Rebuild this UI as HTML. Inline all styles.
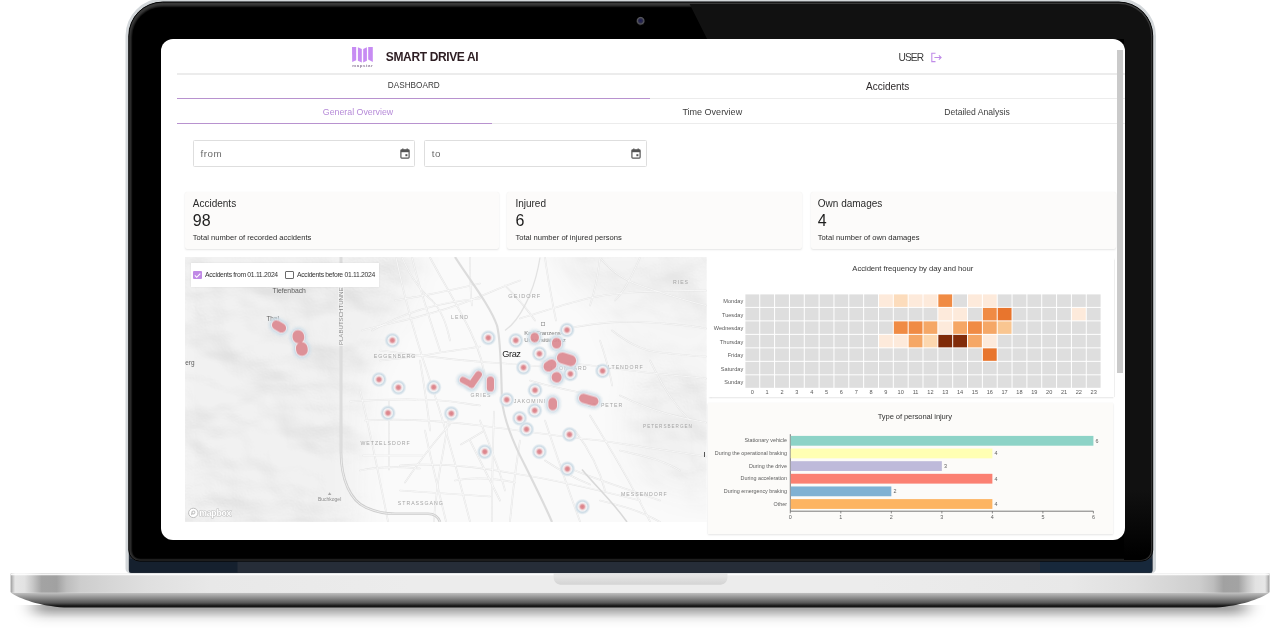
<!DOCTYPE html>
<html><head><meta charset="utf-8"><title>Smart Drive AI</title>
<style>
html,body{margin:0;padding:0;}
body{width:1280px;height:640px;overflow:hidden;background:#fff;position:relative;font-family:"Liberation Sans",Arial,sans-serif;}
.abs{position:absolute;}
.t{position:absolute;white-space:nowrap;}
#screen{position:absolute;left:161px;top:39px;width:964px;height:501px;border-radius:12px;background:#fff;overflow:hidden;will-change:transform;}
</style></head><body>
<svg class="abs" style="left:0;top:0" width="1280" height="640" viewBox="0 0 1280 640">
<defs>
<filter id="sh" x="-10%" y="-100%" width="120%" height="300%"><feGaussianBlur stdDeviation="5"/></filter>
<filter id="shx" x="-5%" y="0" width="110%" height="100%"><feGaussianBlur stdDeviation="9 0"/></filter>
<linearGradient id="shG" x1="0" x2="0" y1="0" y2="1">
 <stop offset="0" stop-color="#000" stop-opacity="0.36"/><stop offset="0.18" stop-color="#000" stop-opacity="0.34"/>
 <stop offset="0.38" stop-color="#000" stop-opacity="0.2"/><stop offset="0.55" stop-color="#000" stop-opacity="0.08"/>
 <stop offset="0.75" stop-color="#000" stop-opacity="0.02"/><stop offset="1" stop-color="#000" stop-opacity="0"/>
</linearGradient>
<filter id="b1" x="-5%" y="-5%" width="110%" height="110%"><feGaussianBlur stdDeviation="1.3"/></filter>
<filter id="b05" x="-5%" y="-5%" width="110%" height="110%"><feGaussianBlur stdDeviation="0.5"/></filter>
<linearGradient id="baseH" x1="10.6" x2="1269.5" y1="0" y2="0" gradientUnits="userSpaceOnUse">
 <stop offset="0.00000" stop-color="#9a9a9a"/> <stop offset="0.00175" stop-color="#c4c4c4"/> <stop offset="0.00357" stop-color="#e6e6e6"/> <stop offset="0.01112" stop-color="#e2e2e2"/> <stop offset="0.01748" stop-color="#c8c8c8"/> <stop offset="0.02462" stop-color="#a3a3a3"/> <stop offset="0.03654" stop-color="#a1a1a1"/> <stop offset="0.04448" stop-color="#bdbdbd"/> <stop offset="0.05560" stop-color="#cdcdcd"/> <stop offset="0.07943" stop-color="#d6d6d6"/> <stop offset="0.10724" stop-color="#dfdfdf"/> <stop offset="0.15887" stop-color="#e8e8e8"/> <stop offset="0.31774" stop-color="#ececec"/> <stop offset="0.68226" stop-color="#ececec"/> <stop offset="0.84113" stop-color="#e8e8e8"/> <stop offset="0.89276" stop-color="#dfdfdf"/> <stop offset="0.92057" stop-color="#d6d6d6"/> <stop offset="0.94440" stop-color="#cdcdcd"/> <stop offset="0.95552" stop-color="#bdbdbd"/> <stop offset="0.96346" stop-color="#a1a1a1"/> <stop offset="0.97538" stop-color="#a3a3a3"/> <stop offset="0.98252" stop-color="#c8c8c8"/> <stop offset="0.98888" stop-color="#e2e2e2"/> <stop offset="0.99643" stop-color="#e6e6e6"/> <stop offset="0.99825" stop-color="#c4c4c4"/> <stop offset="1.00000" stop-color="#9a9a9a"/>
</linearGradient>
<linearGradient id="baseV" x1="0" x2="0" y1="573" y2="592.8" gradientUnits="userSpaceOnUse">
 <stop offset="0" stop-color="#fff" stop-opacity="0.3"/><stop offset="0.04" stop-color="#fff" stop-opacity="0.9"/><stop offset="0.09" stop-color="#fff" stop-opacity="0.9"/>
 <stop offset="0.14" stop-color="#fff" stop-opacity="0"/><stop offset="1" stop-color="#fff" stop-opacity="0"/>
</linearGradient>
<linearGradient id="baseL" x1="0" x2="0" y1="592.5" y2="607.5" gradientUnits="userSpaceOnUse">
 <stop offset="0" stop-color="#c4c4c4"/><stop offset="0.08" stop-color="#b8b8b8"/><stop offset="0.37" stop-color="#8a8a8a"/>
 <stop offset="0.7" stop-color="#555"/><stop offset="0.88" stop-color="#1a1a1a"/><stop offset="1" stop-color="#101010"/>
</linearGradient>
<linearGradient id="notchG" x1="0" x2="0" y1="573" y2="585" gradientUnits="userSpaceOnUse">
 <stop offset="0" stop-color="#e9e9e9"/><stop offset="1" stop-color="#d3d3d3"/>
</linearGradient>
<radialGradient id="cam" cx="0.5" cy="0.45" r="0.5">
 <stop offset="0" stop-color="#1d1d55"/><stop offset="0.45" stop-color="#2a2a48"/><stop offset="0.75" stop-color="#58585e"/><stop offset="1" stop-color="#111"/>
</radialGradient>
<linearGradient id="glareG" x1="0" x2="0" y1="490" y2="556" gradientUnits="userSpaceOnUse"><stop offset="0" stop-color="#111"/><stop offset="1" stop-color="#000"/></linearGradient>
<clipPath id="innerClip"><path d="M130.5 36 A32 32 0 0 1 162.5 4 H1119 A32 32 0 0 1 1151 36 V550 A10 10 0 0 1 1141 560 H140.5 A10 10 0 0 1 130.5 550 Z"/></clipPath>
</defs>
<!-- shadow under base -->
<rect x="34" y="605" width="1212" height="24" fill="url(#shG)" filter="url(#shx)"/>
<!-- base lower part -->
<path d="M10.6 592.5 H1269.5 C1260 599 1240 606 1216 607.5 H64 C40 606 20 599 10.6 592.5 Z" fill="url(#baseL)"/>
<!-- base upper part -->
<rect x="10.6" y="573" width="1258.9" height="19.8" rx="1.2" fill="url(#baseH)"/>
<rect x="10.6" y="573" width="1258.9" height="19.8" rx="1.2" fill="url(#baseV)"/>
<!-- notch -->
<path d="M553.6 573 H727.5 V577 C727.5 582 724 584.8 719 584.8 H562 C557 584.8 553.6 582 553.6 577 Z" fill="url(#notchG)"/>
<!-- lid silver edge -->
<path d="M125.5 35.8 A37.3 37.3 0 0 1 162.8 -1.5 H1118.7 A37.3 37.3 0 0 1 1156 35.8 V568.5 A5 5 0 0 1 1151 573.5 H130.5 A5 5 0 0 1 125.5 568.5 Z" fill="#d3d7da"/>
<!-- bezel outer (navy band) -->
<path d="M128.8 35.8 A34 34 0 0 1 162.8 1.8 H1118.7 A34 34 0 0 1 1152.7 35.8 V570 A3 3 0 0 1 1149.7 573 H131.8 A3 3 0 0 1 128.8 570 Z" fill="#262d38"/>
<rect x="129.5" y="559" width="108" height="13.5" fill="#15202e"/>
<rect x="1040" y="559" width="112" height="13.5" fill="#17283b"/>
<!-- black panel with gray rim -->
<path d="M128.8 35.800000000000004 A33.7 33.7 0 0 1 162.5 2.1 H1119.0 A33.7 33.7 0 0 1 1152.7 35.800000000000004 V550.1 A11 11 0 0 1 1141.7 561.1 H139.8 A11 11 0 0 1 128.8 550.1 Z" fill="#3a3a3a"/>
<path d="M128.8 35.800000000000004 A33.7 33.7 0 0 1 162.5 2.1 H1119.0 A33.7 33.7 0 0 1 1152.7 35.800000000000004 V550.1 A11 11 0 0 1 1141.7 561.1 H139.8 A11 11 0 0 1 128.8 550.1 Z" fill="none" stroke="#050505" stroke-width="1"/>
<path d="M131.3 37.2 A31 31 0 0 1 162.3 6.2 H1119.2 A31 31 0 0 1 1150.2 37.2 V550.6 A9 9 0 0 1 1141.2 559.6 H140.3 A9 9 0 0 1 131.3 550.6 Z" fill="#000" filter="url(#b1)"/>
<path d="M132.5 37.1 A29.5 29.5 0 0 1 162.0 7.6 H1119.5 A29.5 29.5 0 0 1 1149 37.1 V550.5 A8 8 0 0 1 1141 558.5 H140.5 A8 8 0 0 1 132.5 550.5 Z" fill="#000"/>
<polygon points="687.6,0 1160,0 1160,565 1124,565 1124,39 707.1,39" fill="url(#glareG)" clip-path="url(#innerClip)"/>
<!-- camera -->
<circle cx="640.6" cy="21.2" r="4.4" fill="url(#cam)" filter="url(#b05)"/>
</svg>
<div id="screen">
<svg style="position:absolute;left:189px;top:6px" width="26" height="24" viewBox="350 45 26 24">
<g fill="#c78cf3">
<path d="M352 47 L356.2 47 L356.2 60.2 L352.2 62 Z"/>
<path d="M357.9 47.2 L361.8 49 L361.8 62.6 L357.9 60.8 Z"/>
<path d="M363.2 49 L366.9 47.2 L366.9 60.8 L363.2 62.6 Z"/>
<path d="M368.2 47 L372.8 47 L372.8 62 L368.2 59.6 Z"/>
</g>
<text x="352.2" y="67.2" font-size="4.3" fill="#8d7a98" font-weight="700" font-family="Liberation Sans, sans-serif" textLength="20.6" lengthAdjust="spacing">mapstar</text>
</svg>
<div class="t" style="left:224.80px;top:12.14px;font-size:12px;line-height:12px;color:#2d1d22;font-weight:700;letter-spacing:-0.36px;">SMART DRIVE AI</div>
<div class="t" style="left:737.40px;top:14.17px;font-size:10.2px;line-height:10.2px;color:#3a3a3a;font-weight:400;letter-spacing:-0.85px;">USER</div>
<svg style="position:absolute;left:769px;top:13px" width="13" height="12" viewBox="0 0 13 12">
<path d="M5.5 1.3 H1.8 V9.6 H5.5" fill="none" stroke="#c08ce8" stroke-width="1.1"/>
<path d="M4.4 5.5 H11 M8.9 3.3 L11.1 5.5 L8.9 7.7" fill="none" stroke="#c08ce8" stroke-width="1.1"/>
</svg>
<div style="position:absolute;left:16.00px;top:34.00px;width:948.00px;height:1.60px;background:#ececec;"></div>
<div class="t" style="left:252.80px;top:43.46px;font-size:8.2px;line-height:8.2px;color:#3a3a3a;font-weight:400;letter-spacing:0px;transform:translateX(-50%);">DASHBOARD</div>
<div class="t" style="left:726.70px;top:42.94px;font-size:10px;line-height:10px;color:#2e2a2b;font-weight:400;letter-spacing:0px;transform:translateX(-50%);">Accidents</div>
<div style="position:absolute;left:16.00px;top:58.90px;width:473.50px;height:1.30px;background:#b892cf;"></div>
<div style="position:absolute;left:489.00px;top:59.30px;width:475.00px;height:1.00px;background:#ececec;"></div>
<div class="t" style="left:197.00px;top:68.65px;font-size:8.8px;line-height:8.8px;color:#b68ad8;font-weight:400;letter-spacing:0px;transform:translateX(-50%);">General Overview</div>
<div class="t" style="left:551.30px;top:68.88px;font-size:9px;line-height:9px;color:#3d3d3d;font-weight:400;letter-spacing:0px;transform:translateX(-50%);">Time Overview</div>
<div class="t" style="left:816.00px;top:69.22px;font-size:8.6px;line-height:8.6px;color:#3d3d3d;font-weight:400;letter-spacing:0px;transform:translateX(-50%);">Detailed Analysis</div>
<div style="position:absolute;left:16.00px;top:83.70px;width:315.00px;height:1.30px;background:#b892cf;"></div>
<div style="position:absolute;left:331.00px;top:84.30px;width:633.00px;height:1.00px;background:#ececec;"></div>
<div style="position:absolute;left:31.80px;top:101.10px;width:222.70px;height:27.10px;box-sizing:border-box;border:1px solid #dedede;border-radius:1.5px;background:#fff;"></div>
<div style="position:absolute;left:262.50px;top:101.10px;width:223.20px;height:27.10px;box-sizing:border-box;border:1px solid #dedede;border-radius:1.5px;background:#fff;"></div>
<div class="t" style="left:39.60px;top:109.60px;font-size:9.8px;line-height:9.8px;color:#6b6b6b;font-weight:400;letter-spacing:0.5px;">from</div>
<div class="t" style="left:270.80px;top:109.60px;font-size:9.8px;line-height:9.8px;color:#6b6b6b;font-weight:400;letter-spacing:0.5px;">to</div>
<svg style="position:absolute;left:239.0px;top:109.3px" width="10" height="11" viewBox="0 0 10 11"><rect x="0.9" y="1.9" width="8.2" height="8.2" rx="0.8" fill="none" stroke="#555" stroke-width="1.2"/><rect x="0.9" y="1.9" width="8.2" height="2.3" fill="#555"/><rect x="2.3" y="0.4" width="1.1" height="2" fill="#555"/><rect x="6.6" y="0.4" width="1.1" height="2" fill="#555"/><rect x="5.4" y="6.2" width="2" height="2" fill="#555"/></svg>
<svg style="position:absolute;left:469.5px;top:109.3px" width="10" height="11" viewBox="0 0 10 11"><rect x="0.9" y="1.9" width="8.2" height="8.2" rx="0.8" fill="none" stroke="#555" stroke-width="1.2"/><rect x="0.9" y="1.9" width="8.2" height="2.3" fill="#555"/><rect x="2.3" y="0.4" width="1.1" height="2" fill="#555"/><rect x="6.6" y="0.4" width="1.1" height="2" fill="#555"/><rect x="5.4" y="6.2" width="2" height="2" fill="#555"/></svg>
<div style="position:absolute;left:23.80px;top:152.60px;width:313.90px;height:57.00px;background:#fcfbfa;border-radius:2px;box-shadow:0 1px 2px rgba(0,0,0,0.10),0 0 1px rgba(0,0,0,0.05);"></div>
<div class="t" style="left:31.80px;top:160.23px;font-size:10px;line-height:10px;color:#2b2b2b;font-weight:400;letter-spacing:0px;">Accidents</div>
<div class="t" style="left:31.80px;top:173.96px;font-size:16px;line-height:16px;color:#1e1e1e;font-weight:400;letter-spacing:0px;">98</div>
<div class="t" style="left:31.80px;top:194.77px;font-size:7.6px;line-height:7.6px;color:#2b2b2b;font-weight:400;letter-spacing:0px;">Total number of recorded accidents</div>
<div style="position:absolute;left:346.00px;top:152.60px;width:295.00px;height:57.00px;background:#fcfbfa;border-radius:2px;box-shadow:0 1px 2px rgba(0,0,0,0.10),0 0 1px rgba(0,0,0,0.05);"></div>
<div class="t" style="left:354.40px;top:160.23px;font-size:10px;line-height:10px;color:#2b2b2b;font-weight:400;letter-spacing:0px;">Injured</div>
<div class="t" style="left:354.40px;top:173.96px;font-size:16px;line-height:16px;color:#1e1e1e;font-weight:400;letter-spacing:0px;">6</div>
<div class="t" style="left:354.40px;top:194.77px;font-size:7.6px;line-height:7.6px;color:#2b2b2b;font-weight:400;letter-spacing:0px;">Total number of injured persons</div>
<div style="position:absolute;left:649.60px;top:152.60px;width:305.20px;height:57.00px;background:#fcfbfa;border-radius:2px;box-shadow:0 1px 2px rgba(0,0,0,0.10),0 0 1px rgba(0,0,0,0.05);"></div>
<div class="t" style="left:656.80px;top:160.23px;font-size:10px;line-height:10px;color:#2b2b2b;font-weight:400;letter-spacing:0px;">Own damages</div>
<div class="t" style="left:656.80px;top:173.96px;font-size:16px;line-height:16px;color:#1e1e1e;font-weight:400;letter-spacing:0px;">4</div>
<div class="t" style="left:656.80px;top:194.77px;font-size:7.6px;line-height:7.6px;color:#2b2b2b;font-weight:400;letter-spacing:0px;">Total number of own damages</div>
<svg style="position:absolute;left:24px;top:217.5px" width="521.5" height="265.0" viewBox="185 256.5 521.5 265.0">
<defs>
<radialGradient id="halo"><stop offset="0" stop-color="#db7f87"/><stop offset="0.22" stop-color="#df9197"/><stop offset="0.4" stop-color="#f1dcdf"/><stop offset="0.53" stop-color="#f1f3f5"/><stop offset="0.68" stop-color="#ccdbe5"/><stop offset="0.82" stop-color="#d6e2ea" stop-opacity="0.75"/><stop offset="1" stop-color="#e4ecf1" stop-opacity="0"/></radialGradient>
<filter id="terr" filterUnits="userSpaceOnUse" x="185" y="256.5" width="521.5" height="265.0" color-interpolation-filters="sRGB">
 <feTurbulence type="fractalNoise" baseFrequency="0.013 0.017" numOctaves="3" seed="5" result="n"/>
 <feColorMatrix in="n" type="matrix" values="0 0 0 0 0  0 0 0 0 0  0 0 0 0 0  1 0 0 0 0" result="h"/>
 <feDiffuseLighting in="h" surfaceScale="14" diffuseConstant="1" lighting-color="#fff" result="l"><feDistantLight azimuth="300" elevation="50"/></feDiffuseLighting>
 <feColorMatrix in="l" type="matrix" values="0 0 0 0 0  0 0 0 0 0  0 0 0 0 0  -1.6 0 0 0 1.45"/>
</filter>
<filter id="mb" filterUnits="userSpaceOnUse" x="165" y="236.5" width="561.5" height="305.0"><feGaussianBlur stdDeviation="14"/></filter>
<filter id="sb" filterUnits="userSpaceOnUse" x="185" y="256.5" width="521.5" height="265.0"><feGaussianBlur stdDeviation="0.45"/></filter>
<filter id="hb" filterUnits="userSpaceOnUse" x="185" y="256.5" width="521.5" height="265.0"><feGaussianBlur stdDeviation="1.1"/></filter>
<mask id="terrMask" maskUnits="userSpaceOnUse" x="185" y="256.5" width="521.5" height="265.0">
 <g filter="url(#mb)" fill="#fff">
  <path d="M170 240 H414 C416 270 410 295 396 318 C385 335 372 355 366 380 C360 410 358 450 358 540 H170 Z"/>
  <path d="M560 240 H720 V330 C680 320 640 310 600 300 C580 290 565 270 560 240 Z" opacity="0.8"/>
  <path d="M640 385 C660 370 720 370 720 380 V490 C690 500 660 490 640 470 C625 450 625 400 640 385 Z" opacity="0.9"/>
  <path d="M600 300 C630 310 680 320 720 330 V380 H640 C620 360 610 330 600 300 Z" opacity="0.5"/>
 </g>
</mask>
</defs>
<rect x="185" y="256.5" width="521.5" height="265.0" fill="#fafafa"/>
<g mask="url(#terrMask)"><rect x="185" y="256.5" width="521.5" height="265.0" fill="#f1f1f1"/><rect x="185" y="256.5" width="521.5" height="265.0" fill="#000" opacity="0.055" filter="url(#terr)"/></g>
<g fill="none" stroke-linecap="round">
<path d="M396 257 C405 300 418 345 430 380 C440 410 452 450 462 490 L470 521" stroke="#e3e3e3" stroke-width="1.7"/>
<path d="M412 257 C420 290 430 320 440 350" stroke="#e3e3e3" stroke-width="1.7"/>
<path d="M430 257 C445 285 455 300 470 330 C480 350 485 370 487 390" stroke="#e3e3e3" stroke-width="1.7"/>
<path d="M362 330 C390 322 430 316 470 300 C490 292 505 285 520 280" stroke="#e3e3e3" stroke-width="1.7"/>
<path d="M395 300 C420 296 450 290 480 283" stroke="#e3e3e3" stroke-width="1.7"/>
<path d="M380 350 C420 355 455 360 490 362 C520 364 545 366 560 368" stroke="#e3e3e3" stroke-width="1.7"/>
<path d="M365 420 C400 418 440 420 480 425 C520 430 560 436 600 440 C640 446 680 452 706 456" stroke="#e3e3e3" stroke-width="1.7"/>
<path d="M400 465 C440 462 480 466 520 474 C560 480 600 490 640 500" stroke="#e3e3e3" stroke-width="1.7"/>
<path d="M520 318 C540 312 560 305 580 300 C610 292 640 290 706 290" stroke="#e3e3e3" stroke-width="1.7"/>
<path d="M560 330 C590 322 620 320 650 322 C680 324 695 326 706 328" stroke="#e3e3e3" stroke-width="1.7"/>
<path d="M540 360 C570 362 600 366 630 370 C660 374 690 376 706 378" stroke="#e3e3e3" stroke-width="1.7"/>
<path d="M545 257 C548 280 552 300 556 320" stroke="#e3e3e3" stroke-width="1.7"/>
<path d="M600 257 C598 275 595 290 590 305" stroke="#e3e3e3" stroke-width="1.7"/>
<path d="M640 257 C632 275 625 290 615 300" stroke="#e3e3e3" stroke-width="1.7"/>
<path d="M620 395 C640 405 665 415 706 422" stroke="#e3e3e3" stroke-width="1.7"/>
<path d="M360 390 C370 430 378 470 388 521" stroke="#e3e3e3" stroke-width="1.7"/>
<path d="M425 430 C432 465 440 495 446 521" stroke="#e3e3e3" stroke-width="1.7"/>
<path d="M520 440 C515 470 512 500 510 521" stroke="#e3e3e3" stroke-width="1.7"/>
<path d="M545 420 C555 450 565 480 580 521" stroke="#e3e3e3" stroke-width="1.7"/>
<path d="M590 415 C605 440 625 470 650 521" stroke="#e3e3e3" stroke-width="1.7"/>
<path d="M480 420 C490 445 500 470 505 490" stroke="#e3e3e3" stroke-width="1.7"/>
<path d="M420 360 C425 390 428 410 430 430" stroke="#e3e3e3" stroke-width="1.7"/>
<path d="M455 480 C475 476 495 478 515 482" stroke="#e3e3e3" stroke-width="1.7"/>
<path d="M360 470 C380 466 400 466 420 468" stroke="#e3e3e3" stroke-width="1.7"/>
<path d="M600 340 C605 355 610 370 612 385" stroke="#e3e3e3" stroke-width="1.7"/>
<path d="M470 257 C470 275 470 290 472 305" stroke="#e3e3e3" stroke-width="1.7"/>
<path d="M505 285 C515 295 525 305 535 320" stroke="#e3e3e3" stroke-width="1.7"/>
<path d="M650 360 C660 380 670 400 690 420" stroke="#e3e3e3" stroke-width="1.7"/>
<path d="M575 470 C600 480 630 490 660 500" stroke="#e3e3e3" stroke-width="1.7"/>
<path d="M530 380 C545 385 560 388 580 392" stroke="#e3e3e3" stroke-width="1.7"/>
<path d="M402 257 C410 275 420 290 432 300 C440 308 446 320 450 340" stroke="#e3e3e3" stroke-width="1.7"/>
<path d="M372 330 C390 320 410 312 425 308 C445 302 460 300 480 298" stroke="#e3e3e3" stroke-width="1.7"/>
<path d="M380 360 C400 358 420 356 440 352 C455 350 470 348 480 346" stroke="#e3e3e3" stroke-width="1.7"/>
<path d="M350 401 C380 399 410 398 440 400 C455 401 470 404 480 405" stroke="#e3e3e3" stroke-width="1.7"/>
<path d="M389 400 C389 420 389 445 389 469" stroke="#e3e3e3" stroke-width="1.7"/>
<path d="M449 413 C446 440 440 465 438 482 C436 500 434 512 434 521.5" stroke="#e3e3e3" stroke-width="1.7"/>
<path d="M405 482 C420 460 435 440 450 424" stroke="#e3e3e3" stroke-width="1.7"/>
<path d="M363 455 H423" stroke="#e3e3e3" stroke-width="1.7"/>
<path d="M483 431 C475 436 468 440 461 444" stroke="#e3e3e3" stroke-width="1.7"/>
<path d="M494 411 C493 440 492 480 492 521.5" stroke="#e3e3e3" stroke-width="1.7"/>
<path d="M470 440 C480 460 490 480 500 500" stroke="#e3e3e3" stroke-width="1.7"/>
<path d="M400 490 C430 492 460 494 490 496" stroke="#e3e3e3" stroke-width="1.7"/>
<path d="M600 257 C610 270 625 280 640 285 C660 292 685 300 706 305" stroke="#e3e3e3" stroke-width="1.7"/>
<path d="M612 330 C625 340 640 350 660 352 C680 354 695 356 706 356" stroke="#e3e3e3" stroke-width="1.7"/>
<path d="M575 430 C590 450 600 470 605 490" stroke="#e3e3e3" stroke-width="1.7"/>
<path d="M620 450 C640 455 660 458 680 470" stroke="#e3e3e3" stroke-width="1.7"/>
<path d="M600 500 C620 505 640 510 660 521.5" stroke="#e3e3e3" stroke-width="1.7"/>
<path d="M545 460 C560 470 575 478 590 484" stroke="#e3e3e3" stroke-width="1.7"/>
<path d="M396 257 C405 300 418 345 430 380 C440 410 452 450 462 490 L470 521" stroke="#fdfdfd" stroke-width="0.7"/>
<path d="M412 257 C420 290 430 320 440 350" stroke="#fdfdfd" stroke-width="0.7"/>
<path d="M430 257 C445 285 455 300 470 330 C480 350 485 370 487 390" stroke="#fdfdfd" stroke-width="0.7"/>
<path d="M362 330 C390 322 430 316 470 300 C490 292 505 285 520 280" stroke="#fdfdfd" stroke-width="0.7"/>
<path d="M395 300 C420 296 450 290 480 283" stroke="#fdfdfd" stroke-width="0.7"/>
<path d="M380 350 C420 355 455 360 490 362 C520 364 545 366 560 368" stroke="#fdfdfd" stroke-width="0.7"/>
<path d="M365 420 C400 418 440 420 480 425 C520 430 560 436 600 440 C640 446 680 452 706 456" stroke="#fdfdfd" stroke-width="0.7"/>
<path d="M400 465 C440 462 480 466 520 474 C560 480 600 490 640 500" stroke="#fdfdfd" stroke-width="0.7"/>
<path d="M520 318 C540 312 560 305 580 300 C610 292 640 290 706 290" stroke="#fdfdfd" stroke-width="0.7"/>
<path d="M560 330 C590 322 620 320 650 322 C680 324 695 326 706 328" stroke="#fdfdfd" stroke-width="0.7"/>
<path d="M540 360 C570 362 600 366 630 370 C660 374 690 376 706 378" stroke="#fdfdfd" stroke-width="0.7"/>
<path d="M545 257 C548 280 552 300 556 320" stroke="#fdfdfd" stroke-width="0.7"/>
<path d="M600 257 C598 275 595 290 590 305" stroke="#fdfdfd" stroke-width="0.7"/>
<path d="M640 257 C632 275 625 290 615 300" stroke="#fdfdfd" stroke-width="0.7"/>
<path d="M620 395 C640 405 665 415 706 422" stroke="#fdfdfd" stroke-width="0.7"/>
<path d="M360 390 C370 430 378 470 388 521" stroke="#fdfdfd" stroke-width="0.7"/>
<path d="M425 430 C432 465 440 495 446 521" stroke="#fdfdfd" stroke-width="0.7"/>
<path d="M520 440 C515 470 512 500 510 521" stroke="#fdfdfd" stroke-width="0.7"/>
<path d="M545 420 C555 450 565 480 580 521" stroke="#fdfdfd" stroke-width="0.7"/>
<path d="M590 415 C605 440 625 470 650 521" stroke="#fdfdfd" stroke-width="0.7"/>
<path d="M480 420 C490 445 500 470 505 490" stroke="#fdfdfd" stroke-width="0.7"/>
<path d="M420 360 C425 390 428 410 430 430" stroke="#fdfdfd" stroke-width="0.7"/>
<path d="M455 480 C475 476 495 478 515 482" stroke="#fdfdfd" stroke-width="0.7"/>
<path d="M360 470 C380 466 400 466 420 468" stroke="#fdfdfd" stroke-width="0.7"/>
<path d="M600 340 C605 355 610 370 612 385" stroke="#fdfdfd" stroke-width="0.7"/>
<path d="M470 257 C470 275 470 290 472 305" stroke="#fdfdfd" stroke-width="0.7"/>
<path d="M505 285 C515 295 525 305 535 320" stroke="#fdfdfd" stroke-width="0.7"/>
<path d="M650 360 C660 380 670 400 690 420" stroke="#fdfdfd" stroke-width="0.7"/>
<path d="M575 470 C600 480 630 490 660 500" stroke="#fdfdfd" stroke-width="0.7"/>
<path d="M530 380 C545 385 560 388 580 392" stroke="#fdfdfd" stroke-width="0.7"/>
<path d="M402 257 C410 275 420 290 432 300 C440 308 446 320 450 340" stroke="#fdfdfd" stroke-width="0.7"/>
<path d="M372 330 C390 320 410 312 425 308 C445 302 460 300 480 298" stroke="#fdfdfd" stroke-width="0.7"/>
<path d="M380 360 C400 358 420 356 440 352 C455 350 470 348 480 346" stroke="#fdfdfd" stroke-width="0.7"/>
<path d="M350 401 C380 399 410 398 440 400 C455 401 470 404 480 405" stroke="#fdfdfd" stroke-width="0.7"/>
<path d="M389 400 C389 420 389 445 389 469" stroke="#fdfdfd" stroke-width="0.7"/>
<path d="M449 413 C446 440 440 465 438 482 C436 500 434 512 434 521.5" stroke="#fdfdfd" stroke-width="0.7"/>
<path d="M405 482 C420 460 435 440 450 424" stroke="#fdfdfd" stroke-width="0.7"/>
<path d="M363 455 H423" stroke="#fdfdfd" stroke-width="0.7"/>
<path d="M483 431 C475 436 468 440 461 444" stroke="#fdfdfd" stroke-width="0.7"/>
<path d="M494 411 C493 440 492 480 492 521.5" stroke="#fdfdfd" stroke-width="0.7"/>
<path d="M470 440 C480 460 490 480 500 500" stroke="#fdfdfd" stroke-width="0.7"/>
<path d="M400 490 C430 492 460 494 490 496" stroke="#fdfdfd" stroke-width="0.7"/>
<path d="M600 257 C610 270 625 280 640 285 C660 292 685 300 706 305" stroke="#fdfdfd" stroke-width="0.7"/>
<path d="M612 330 C625 340 640 350 660 352 C680 354 695 356 706 356" stroke="#fdfdfd" stroke-width="0.7"/>
<path d="M575 430 C590 450 600 470 605 490" stroke="#fdfdfd" stroke-width="0.7"/>
<path d="M620 450 C640 455 660 458 680 470" stroke="#fdfdfd" stroke-width="0.7"/>
<path d="M600 500 C620 505 640 510 660 521.5" stroke="#fdfdfd" stroke-width="0.7"/>
<path d="M545 460 C560 470 575 478 590 484" stroke="#fdfdfd" stroke-width="0.7"/>
</g>
<path d="M455 256.5 C470 280 490 305 497 325 C501 340 501 370 502 400 C504 420 512 440 525 465 C535 485 545 505 552 521.5" fill="none" stroke="#dcdcdc" stroke-width="2.2"/>
<path d="M582 469 C595 485 612 500 627 521.5" fill="none" stroke="#d9d9d9" stroke-width="1.6"/>
<path d="M540 257 C535 290 520 320 505 330" fill="none" stroke="#e2e2e2" stroke-width="1.3"/>
<path d="M341 256.5 V452 C341 478 350 500 366 507 C375 511 385 513.3 395 513.3 H428 C434 513.3 438 516 440 521.5" fill="none" stroke="#cdcdcd" stroke-width="2.6"/>
<path d="M341 256.5 V452 C341 478 350 500 366 507 C375 511 385 513.3 395 513.3 H428 C434 513.3 438 516 440 521.5" fill="none" stroke="#f0f0f0" stroke-width="0.9"/>
<text x="289.2" y="292.7" font-size="6.8" fill="#5e5e5e" text-anchor="middle" letter-spacing="0" font-weight="400" font-family="Liberation Sans, sans-serif" >Tiefenbach</text>
<text x="272.6" y="320.6" font-size="6.4" fill="#5e5e5e" text-anchor="middle" letter-spacing="0" font-weight="400" font-family="Liberation Sans, sans-serif" >Thal</text>
<text x="185.3" y="364.4" font-size="6.4" fill="#5e5e5e" text-anchor="start" letter-spacing="0" font-weight="400" font-family="Liberation Sans, sans-serif" >erg</text>
<text x="524.8" y="297.7" font-size="5.6" fill="#a5a5a5" text-anchor="middle" letter-spacing="1.1" font-weight="400" font-family="Liberation Sans, sans-serif" >GEIDORF</text>
<text x="460" y="318.5" font-size="5.2" fill="#a5a5a5" text-anchor="middle" letter-spacing="1.0" font-weight="400" font-family="Liberation Sans, sans-serif" >LEND</text>
<text x="681" y="283" font-size="5.2" fill="#a5a5a5" text-anchor="middle" letter-spacing="1.0" font-weight="400" font-family="Liberation Sans, sans-serif" >RIES</text>
<text x="395" y="357.5" font-size="5.2" fill="#a5a5a5" text-anchor="middle" letter-spacing="1.0" font-weight="400" font-family="Liberation Sans, sans-serif" >EGGENBERG</text>
<text x="543.3" y="334.3" font-size="6.0" fill="#7a7a7a" text-anchor="middle" letter-spacing="-0.1" font-weight="400" font-family="Liberation Sans, sans-serif" >Karl-Franzens-</text>
<text x="545" y="341.6" font-size="6.0" fill="#7a7a7a" text-anchor="middle" letter-spacing="-0.1" font-weight="400" font-family="Liberation Sans, sans-serif" >Universität Graz</text>
<text x="620.7" y="368" font-size="5.2" fill="#a5a5a5" text-anchor="middle" letter-spacing="1.0" font-weight="400" font-family="Liberation Sans, sans-serif" >WALTENDORF</text>
<text x="569" y="369.5" font-size="5.2" fill="#a5a5a5" text-anchor="middle" letter-spacing="1.0" font-weight="400" font-family="Liberation Sans, sans-serif" >LEONHARD</text>
<text x="481" y="396.5" font-size="5.2" fill="#a5a5a5" text-anchor="middle" letter-spacing="1.0" font-weight="400" font-family="Liberation Sans, sans-serif" >GRIES</text>
<text x="530" y="402.5" font-size="5.2" fill="#a5a5a5" text-anchor="middle" letter-spacing="1.0" font-weight="400" font-family="Liberation Sans, sans-serif" >JAKOMINI</text>
<text x="605.6" y="406" font-size="5.2" fill="#a5a5a5" text-anchor="middle" letter-spacing="1.0" font-weight="400" font-family="Liberation Sans, sans-serif" >ST. PETER</text>
<text x="668" y="427" font-size="4.6" fill="#a5a5a5" text-anchor="middle" letter-spacing="1.0" font-weight="400" font-family="Liberation Sans, sans-serif" >PETERSBERGEN</text>
<text x="385.5" y="444" font-size="5.2" fill="#a5a5a5" text-anchor="middle" letter-spacing="1.0" font-weight="400" font-family="Liberation Sans, sans-serif" >WETZELSDORF</text>
<text x="420.8" y="504.5" font-size="5.2" fill="#a5a5a5" text-anchor="middle" letter-spacing="1.0" font-weight="400" font-family="Liberation Sans, sans-serif" >STRASSGANG</text>
<text x="644.3" y="495.5" font-size="5.2" fill="#a5a5a5" text-anchor="middle" letter-spacing="1.0" font-weight="400" font-family="Liberation Sans, sans-serif" >MESSENDORF</text>
<text x="329.6" y="500.5" font-size="5" fill="#8a8a8a" text-anchor="middle" letter-spacing="0" font-weight="400" font-family="Liberation Sans, sans-serif" >Buchkogel</text>
<path d="M327.9 494.6 L329.6 491.8 L331.3 494.6 Z" fill="#a8a8a8"/>
<rect x="541.5" y="322" width="3.2" height="3.2" fill="none" stroke="#999" stroke-width="0.6"/>
<rect x="338" y="286" width="6" height="59.5" fill="#f1f1f1"/>
<text x="343.1" y="344.6" font-size="6.2" fill="#8e8e8e" text-anchor="start" letter-spacing="0" font-weight="400" font-family="Liberation Sans, sans-serif" textLength="61" lengthAdjust="spacingAndGlyphs" transform="rotate(-90 343.1 344.6)">PLABUTSCHTUNNEL</text>
<circle cx="392.4" cy="339.9" r="8.2" fill="url(#halo)"/>
<circle cx="379" cy="379" r="8.2" fill="url(#halo)"/>
<circle cx="398.4" cy="387" r="8.2" fill="url(#halo)"/>
<circle cx="433.7" cy="386.7" r="8.2" fill="url(#halo)"/>
<circle cx="388" cy="412.5" r="8.2" fill="url(#halo)"/>
<circle cx="451.3" cy="413" r="8.2" fill="url(#halo)"/>
<circle cx="488.3" cy="337.3" r="8.2" fill="url(#halo)"/>
<circle cx="515.8" cy="339.9" r="8.2" fill="url(#halo)"/>
<circle cx="567" cy="329.5" r="8.2" fill="url(#halo)"/>
<circle cx="539.4" cy="353.2" r="8.2" fill="url(#halo)"/>
<circle cx="523.5" cy="367" r="8.2" fill="url(#halo)"/>
<circle cx="570.4" cy="373.4" r="8.2" fill="url(#halo)"/>
<circle cx="602.6" cy="370.4" r="8.2" fill="url(#halo)"/>
<circle cx="506.7" cy="399.2" r="8.2" fill="url(#halo)"/>
<circle cx="535" cy="389.7" r="8.2" fill="url(#halo)"/>
<circle cx="534.7" cy="410" r="8.2" fill="url(#halo)"/>
<circle cx="519.6" cy="417.7" r="8.2" fill="url(#halo)"/>
<circle cx="526.5" cy="428.8" r="8.2" fill="url(#halo)"/>
<circle cx="569.5" cy="434" r="8.2" fill="url(#halo)"/>
<circle cx="484.8" cy="451.2" r="8.2" fill="url(#halo)"/>
<circle cx="539.4" cy="451.2" r="8.2" fill="url(#halo)"/>
<circle cx="567.4" cy="468.4" r="8.2" fill="url(#halo)"/>
<circle cx="582.4" cy="506.2" r="8.2" fill="url(#halo)"/>
<g stroke-linecap="round" fill="none" filter="url(#sb)" opacity="0.93">
<path d="M276.5 324.5 L281.51 327.51" stroke="#d3e1ea" stroke-width="16.2" opacity="0.85" filter="url(#hb)"/>
<path d="M298.2 335.5 L298.51 337.01" stroke="#d3e1ea" stroke-width="18.6" opacity="0.85" filter="url(#hb)"/>
<path d="M301.7 347.5 L302.01 349.51" stroke="#d3e1ea" stroke-width="18.6" opacity="0.85" filter="url(#hb)"/>
<path d="M534.7 336.5 L534.71 337.51" stroke="#d3e1ea" stroke-width="15.4" opacity="0.85" filter="url(#hb)"/>
<path d="M556.6 342 L556.61 343.51" stroke="#d3e1ea" stroke-width="16.2" opacity="0.85" filter="url(#hb)"/>
<path d="M562.5 357.5 L570.51 360.01" stroke="#d3e1ea" stroke-width="18.2" opacity="0.85" filter="url(#hb)"/>
<path d="M548.5 366 L551.51 364.01" stroke="#d3e1ea" stroke-width="17" opacity="0.85" filter="url(#hb)"/>
<path d="M556.6 376.5 L556.61 377.01" stroke="#d3e1ea" stroke-width="17" opacity="0.85" filter="url(#hb)"/>
<path d="M463 379.5 L471.51 384.01" stroke="#d3e1ea" stroke-width="13.4" opacity="0.85" filter="url(#hb)"/>
<path d="M471.5 384 L478.51 374.01" stroke="#d3e1ea" stroke-width="13.8" opacity="0.85" filter="url(#hb)"/>
<path d="M490.4 379.5 L490.40999999999997 387.51" stroke="#d3e1ea" stroke-width="14.2" opacity="0.85" filter="url(#hb)"/>
<path d="M552.7 401.5 L552.71 405.51" stroke="#d3e1ea" stroke-width="15.6" opacity="0.85" filter="url(#hb)"/>
<path d="M583.5 397.8 L594.01 400.81" stroke="#d3e1ea" stroke-width="16.0" opacity="0.85" filter="url(#hb)"/>
<path d="M276.5 324.5 L281.51 327.51" stroke="#c9dae5" stroke-width="12.799999999999999"/>
<path d="M298.2 335.5 L298.51 337.01" stroke="#c9dae5" stroke-width="15.2"/>
<path d="M301.7 347.5 L302.01 349.51" stroke="#c9dae5" stroke-width="15.2"/>
<path d="M534.7 336.5 L534.71 337.51" stroke="#c9dae5" stroke-width="12.0"/>
<path d="M556.6 342 L556.61 343.51" stroke="#c9dae5" stroke-width="12.799999999999999"/>
<path d="M562.5 357.5 L570.51 360.01" stroke="#c9dae5" stroke-width="14.799999999999999"/>
<path d="M548.5 366 L551.51 364.01" stroke="#c9dae5" stroke-width="13.6"/>
<path d="M556.6 376.5 L556.61 377.01" stroke="#c9dae5" stroke-width="13.6"/>
<path d="M463 379.5 L471.51 384.01" stroke="#c9dae5" stroke-width="10.0"/>
<path d="M471.5 384 L478.51 374.01" stroke="#c9dae5" stroke-width="10.4"/>
<path d="M490.4 379.5 L490.40999999999997 387.51" stroke="#c9dae5" stroke-width="10.8"/>
<path d="M552.7 401.5 L552.71 405.51" stroke="#c9dae5" stroke-width="12.2"/>
<path d="M583.5 397.8 L594.01 400.81" stroke="#c9dae5" stroke-width="12.6"/>
<path d="M276.5 324.5 L281.51 327.51" stroke="#f3eaee" stroke-width="11.0"/>
<path d="M298.2 335.5 L298.51 337.01" stroke="#f3eaee" stroke-width="13.4"/>
<path d="M301.7 347.5 L302.01 349.51" stroke="#f3eaee" stroke-width="13.4"/>
<path d="M534.7 336.5 L534.71 337.51" stroke="#f3eaee" stroke-width="10.200000000000001"/>
<path d="M556.6 342 L556.61 343.51" stroke="#f3eaee" stroke-width="11.0"/>
<path d="M562.5 357.5 L570.51 360.01" stroke="#f3eaee" stroke-width="13.0"/>
<path d="M548.5 366 L551.51 364.01" stroke="#f3eaee" stroke-width="11.8"/>
<path d="M556.6 376.5 L556.61 377.01" stroke="#f3eaee" stroke-width="11.8"/>
<path d="M463 379.5 L471.51 384.01" stroke="#f3eaee" stroke-width="8.200000000000001"/>
<path d="M471.5 384 L478.51 374.01" stroke="#f3eaee" stroke-width="8.6"/>
<path d="M490.4 379.5 L490.40999999999997 387.51" stroke="#f3eaee" stroke-width="9.0"/>
<path d="M552.7 401.5 L552.71 405.51" stroke="#f3eaee" stroke-width="10.4"/>
<path d="M583.5 397.8 L594.01 400.81" stroke="#f3eaee" stroke-width="10.8"/>
<path d="M276.5 324.5 L281.51 327.51" stroke="#dc8a92" stroke-width="9.2"/>
<path d="M298.2 335.5 L298.51 337.01" stroke="#dc8a92" stroke-width="11.6"/>
<path d="M301.7 347.5 L302.01 349.51" stroke="#dc8a92" stroke-width="11.6"/>
<path d="M534.7 336.5 L534.71 337.51" stroke="#dc8a92" stroke-width="8.4"/>
<path d="M556.6 342 L556.61 343.51" stroke="#dc8a92" stroke-width="9.2"/>
<path d="M562.5 357.5 L570.51 360.01" stroke="#dc8a92" stroke-width="11.2"/>
<path d="M548.5 366 L551.51 364.01" stroke="#dc8a92" stroke-width="10"/>
<path d="M556.6 376.5 L556.61 377.01" stroke="#dc8a92" stroke-width="10"/>
<path d="M463 379.5 L471.51 384.01" stroke="#dc8a92" stroke-width="6.4"/>
<path d="M471.5 384 L478.51 374.01" stroke="#dc8a92" stroke-width="6.8"/>
<path d="M490.4 379.5 L490.40999999999997 387.51" stroke="#dc8a92" stroke-width="7.2"/>
<path d="M552.7 401.5 L552.71 405.51" stroke="#dc8a92" stroke-width="8.6"/>
<path d="M583.5 397.8 L594.01 400.81" stroke="#dc8a92" stroke-width="9.0"/>
</g>
<text x="511.4" y="356.8" font-size="9.2" fill="#222" text-anchor="middle" letter-spacing="-0.45" font-weight="400" font-family="Liberation Sans, sans-serif" >Graz</text>
<circle cx="193.3" cy="512.4" r="4.7" fill="#fff" stroke="#bdbdbd" stroke-width="1"/>
<path d="M190.9 514.9 L191.4 511.6 C191.8 509.9 194.6 509.5 195.3 511.2 C196 512.9 194 514.5 192.2 514 Z" fill="#c4c4c4"/>
<circle cx="193.5" cy="511.9" r="0.9" fill="#fff"/>
<text x="199.2" y="515.6" font-size="8.6" fill="#fff" text-anchor="start" letter-spacing="-0.15" font-weight="700" font-family="Liberation Sans, sans-serif" stroke="#bebebe" stroke-width="1" paint-order="stroke">mapbox</text>
</svg>
<div style="position:absolute;left:30.00px;top:224.00px;width:187.70px;height:23.80px;background:#fff;box-shadow:0 0 2px rgba(0,0,0,0.08);"></div>
<div style="position:absolute;left:32.00px;top:231.50px;width:9.00px;height:8.40px;background:#c08ae6;border-radius:1px;"></div>
<svg style="position:absolute;left:32px;top:231.8px" width="9" height="9" viewBox="0 0 9 9"><path d="M1.8 4.4 L3.7 6.3 L7.3 2.6" fill="none" stroke="#fff" stroke-width="1.1"/></svg>
<div class="t" style="left:44.00px;top:233.34px;font-size:6.8px;line-height:6.8px;color:#333;font-weight:400;letter-spacing:-0.3px;">Accidents from 01.11.2024</div>
<div style="position:absolute;left:123.70px;top:231.50px;width:8.90px;height:8.40px;box-sizing:border-box;border:1.2px solid #6a6a6a;border-radius:1px;"></div>
<div class="t" style="left:136.00px;top:233.34px;font-size:6.8px;line-height:6.8px;color:#333;font-weight:400;letter-spacing:-0.3px;">Accidents before 01.11.2024</div>
<div style="position:absolute;left:546.50px;top:217.60px;width:406.00px;height:140.00px;background:#fff;box-shadow:0 1.5px 1.5px -0.5px rgba(0,0,0,0.12),1px 0 1px -0.5px rgba(0,0,0,0.06);"></div>
<div class="t" style="left:751.80px;top:226.28px;font-size:7.7px;line-height:7.7px;color:#333;font-weight:400;letter-spacing:-0.05px;transform:translateX(-50%);">Accident frequency by day and hour</div>
<svg style="position:absolute;left:539px;top:246px" width="410" height="112" viewBox="700 285 410 112"><rect x="745.40" y="294.40" width="13.84" height="12.49" fill="#dedede"/><rect x="760.24" y="294.40" width="13.84" height="12.49" fill="#dedede"/><rect x="775.08" y="294.40" width="13.84" height="12.49" fill="#dedede"/><rect x="789.92" y="294.40" width="13.84" height="12.49" fill="#dedede"/><rect x="804.77" y="294.40" width="13.84" height="12.49" fill="#dedede"/><rect x="819.61" y="294.40" width="13.84" height="12.49" fill="#dedede"/><rect x="834.45" y="294.40" width="13.84" height="12.49" fill="#dedede"/><rect x="849.29" y="294.40" width="13.84" height="12.49" fill="#dedede"/><rect x="864.13" y="294.40" width="13.84" height="12.49" fill="#dedede"/><rect x="878.97" y="294.40" width="13.84" height="12.49" fill="#fdeadb"/><rect x="893.82" y="294.40" width="13.84" height="12.49" fill="#fcdcbc"/><rect x="908.66" y="294.40" width="13.84" height="12.49" fill="#fdeadb"/><rect x="923.50" y="294.40" width="13.84" height="12.49" fill="#fdeadb"/><rect x="938.34" y="294.40" width="13.84" height="12.49" fill="#f08b44"/><rect x="953.18" y="294.40" width="13.84" height="12.49" fill="#dedede"/><rect x="968.02" y="294.40" width="13.84" height="12.49" fill="#fdeadb"/><rect x="982.87" y="294.40" width="13.84" height="12.49" fill="#fdeadb"/><rect x="997.71" y="294.40" width="13.84" height="12.49" fill="#dedede"/><rect x="1012.55" y="294.40" width="13.84" height="12.49" fill="#dedede"/><rect x="1027.39" y="294.40" width="13.84" height="12.49" fill="#dedede"/><rect x="1042.23" y="294.40" width="13.84" height="12.49" fill="#dedede"/><rect x="1057.07" y="294.40" width="13.84" height="12.49" fill="#dedede"/><rect x="1071.92" y="294.40" width="13.84" height="12.49" fill="#dedede"/><rect x="1086.76" y="294.40" width="13.84" height="12.49" fill="#dedede"/><rect x="745.40" y="307.89" width="13.84" height="12.49" fill="#dedede"/><rect x="760.24" y="307.89" width="13.84" height="12.49" fill="#dedede"/><rect x="775.08" y="307.89" width="13.84" height="12.49" fill="#dedede"/><rect x="789.92" y="307.89" width="13.84" height="12.49" fill="#dedede"/><rect x="804.77" y="307.89" width="13.84" height="12.49" fill="#dedede"/><rect x="819.61" y="307.89" width="13.84" height="12.49" fill="#dedede"/><rect x="834.45" y="307.89" width="13.84" height="12.49" fill="#dedede"/><rect x="849.29" y="307.89" width="13.84" height="12.49" fill="#dedede"/><rect x="864.13" y="307.89" width="13.84" height="12.49" fill="#dedede"/><rect x="878.97" y="307.89" width="13.84" height="12.49" fill="#dedede"/><rect x="893.82" y="307.89" width="13.84" height="12.49" fill="#dedede"/><rect x="908.66" y="307.89" width="13.84" height="12.49" fill="#dedede"/><rect x="923.50" y="307.89" width="13.84" height="12.49" fill="#dedede"/><rect x="938.34" y="307.89" width="13.84" height="12.49" fill="#fdeadb"/><rect x="953.18" y="307.89" width="13.84" height="12.49" fill="#fdeadb"/><rect x="968.02" y="307.89" width="13.84" height="12.49" fill="#dedede"/><rect x="982.87" y="307.89" width="13.84" height="12.49" fill="#f08b44"/><rect x="997.71" y="307.89" width="13.84" height="12.49" fill="#e8752d"/><rect x="1012.55" y="307.89" width="13.84" height="12.49" fill="#dedede"/><rect x="1027.39" y="307.89" width="13.84" height="12.49" fill="#dedede"/><rect x="1042.23" y="307.89" width="13.84" height="12.49" fill="#dedede"/><rect x="1057.07" y="307.89" width="13.84" height="12.49" fill="#dedede"/><rect x="1071.92" y="307.89" width="13.84" height="12.49" fill="#fdeadb"/><rect x="1086.76" y="307.89" width="13.84" height="12.49" fill="#dedede"/><rect x="745.40" y="321.37" width="13.84" height="12.49" fill="#dedede"/><rect x="760.24" y="321.37" width="13.84" height="12.49" fill="#dedede"/><rect x="775.08" y="321.37" width="13.84" height="12.49" fill="#dedede"/><rect x="789.92" y="321.37" width="13.84" height="12.49" fill="#dedede"/><rect x="804.77" y="321.37" width="13.84" height="12.49" fill="#dedede"/><rect x="819.61" y="321.37" width="13.84" height="12.49" fill="#dedede"/><rect x="834.45" y="321.37" width="13.84" height="12.49" fill="#dedede"/><rect x="849.29" y="321.37" width="13.84" height="12.49" fill="#dedede"/><rect x="864.13" y="321.37" width="13.84" height="12.49" fill="#dedede"/><rect x="878.97" y="321.37" width="13.84" height="12.49" fill="#dedede"/><rect x="893.82" y="321.37" width="13.84" height="12.49" fill="#f08b44"/><rect x="908.66" y="321.37" width="13.84" height="12.49" fill="#f08b44"/><rect x="923.50" y="321.37" width="13.84" height="12.49" fill="#f5a766"/><rect x="938.34" y="321.37" width="13.84" height="12.49" fill="#fdeadb"/><rect x="953.18" y="321.37" width="13.84" height="12.49" fill="#f5a766"/><rect x="968.02" y="321.37" width="13.84" height="12.49" fill="#f08b44"/><rect x="982.87" y="321.37" width="13.84" height="12.49" fill="#f5a766"/><rect x="997.71" y="321.37" width="13.84" height="12.49" fill="#f9c691"/><rect x="1012.55" y="321.37" width="13.84" height="12.49" fill="#dedede"/><rect x="1027.39" y="321.37" width="13.84" height="12.49" fill="#dedede"/><rect x="1042.23" y="321.37" width="13.84" height="12.49" fill="#dedede"/><rect x="1057.07" y="321.37" width="13.84" height="12.49" fill="#dedede"/><rect x="1071.92" y="321.37" width="13.84" height="12.49" fill="#dedede"/><rect x="1086.76" y="321.37" width="13.84" height="12.49" fill="#dedede"/><rect x="745.40" y="334.86" width="13.84" height="12.49" fill="#dedede"/><rect x="760.24" y="334.86" width="13.84" height="12.49" fill="#dedede"/><rect x="775.08" y="334.86" width="13.84" height="12.49" fill="#dedede"/><rect x="789.92" y="334.86" width="13.84" height="12.49" fill="#dedede"/><rect x="804.77" y="334.86" width="13.84" height="12.49" fill="#dedede"/><rect x="819.61" y="334.86" width="13.84" height="12.49" fill="#dedede"/><rect x="834.45" y="334.86" width="13.84" height="12.49" fill="#dedede"/><rect x="849.29" y="334.86" width="13.84" height="12.49" fill="#dedede"/><rect x="864.13" y="334.86" width="13.84" height="12.49" fill="#dedede"/><rect x="878.97" y="334.86" width="13.84" height="12.49" fill="#fdeadb"/><rect x="893.82" y="334.86" width="13.84" height="12.49" fill="#fdeadb"/><rect x="908.66" y="334.86" width="13.84" height="12.49" fill="#f5a766"/><rect x="923.50" y="334.86" width="13.84" height="12.49" fill="#fcd7af"/><rect x="938.34" y="334.86" width="13.84" height="12.49" fill="#7f2a08"/><rect x="953.18" y="334.86" width="13.84" height="12.49" fill="#822c0a"/><rect x="968.02" y="334.86" width="13.84" height="12.49" fill="#f5a766"/><rect x="982.87" y="334.86" width="13.84" height="12.49" fill="#fdeadb"/><rect x="997.71" y="334.86" width="13.84" height="12.49" fill="#dedede"/><rect x="1012.55" y="334.86" width="13.84" height="12.49" fill="#dedede"/><rect x="1027.39" y="334.86" width="13.84" height="12.49" fill="#dedede"/><rect x="1042.23" y="334.86" width="13.84" height="12.49" fill="#dedede"/><rect x="1057.07" y="334.86" width="13.84" height="12.49" fill="#dedede"/><rect x="1071.92" y="334.86" width="13.84" height="12.49" fill="#dedede"/><rect x="1086.76" y="334.86" width="13.84" height="12.49" fill="#dedede"/><rect x="745.40" y="348.34" width="13.84" height="12.49" fill="#dedede"/><rect x="760.24" y="348.34" width="13.84" height="12.49" fill="#dedede"/><rect x="775.08" y="348.34" width="13.84" height="12.49" fill="#dedede"/><rect x="789.92" y="348.34" width="13.84" height="12.49" fill="#dedede"/><rect x="804.77" y="348.34" width="13.84" height="12.49" fill="#dedede"/><rect x="819.61" y="348.34" width="13.84" height="12.49" fill="#dedede"/><rect x="834.45" y="348.34" width="13.84" height="12.49" fill="#dedede"/><rect x="849.29" y="348.34" width="13.84" height="12.49" fill="#dedede"/><rect x="864.13" y="348.34" width="13.84" height="12.49" fill="#dedede"/><rect x="878.97" y="348.34" width="13.84" height="12.49" fill="#dedede"/><rect x="893.82" y="348.34" width="13.84" height="12.49" fill="#dedede"/><rect x="908.66" y="348.34" width="13.84" height="12.49" fill="#dedede"/><rect x="923.50" y="348.34" width="13.84" height="12.49" fill="#dedede"/><rect x="938.34" y="348.34" width="13.84" height="12.49" fill="#dedede"/><rect x="953.18" y="348.34" width="13.84" height="12.49" fill="#dedede"/><rect x="968.02" y="348.34" width="13.84" height="12.49" fill="#dedede"/><rect x="982.87" y="348.34" width="13.84" height="12.49" fill="#e8752d"/><rect x="997.71" y="348.34" width="13.84" height="12.49" fill="#dedede"/><rect x="1012.55" y="348.34" width="13.84" height="12.49" fill="#dedede"/><rect x="1027.39" y="348.34" width="13.84" height="12.49" fill="#dedede"/><rect x="1042.23" y="348.34" width="13.84" height="12.49" fill="#dedede"/><rect x="1057.07" y="348.34" width="13.84" height="12.49" fill="#dedede"/><rect x="1071.92" y="348.34" width="13.84" height="12.49" fill="#dedede"/><rect x="1086.76" y="348.34" width="13.84" height="12.49" fill="#dedede"/><rect x="745.40" y="361.83" width="13.84" height="12.49" fill="#dedede"/><rect x="760.24" y="361.83" width="13.84" height="12.49" fill="#dedede"/><rect x="775.08" y="361.83" width="13.84" height="12.49" fill="#dedede"/><rect x="789.92" y="361.83" width="13.84" height="12.49" fill="#dedede"/><rect x="804.77" y="361.83" width="13.84" height="12.49" fill="#dedede"/><rect x="819.61" y="361.83" width="13.84" height="12.49" fill="#dedede"/><rect x="834.45" y="361.83" width="13.84" height="12.49" fill="#dedede"/><rect x="849.29" y="361.83" width="13.84" height="12.49" fill="#dedede"/><rect x="864.13" y="361.83" width="13.84" height="12.49" fill="#dedede"/><rect x="878.97" y="361.83" width="13.84" height="12.49" fill="#dedede"/><rect x="893.82" y="361.83" width="13.84" height="12.49" fill="#dedede"/><rect x="908.66" y="361.83" width="13.84" height="12.49" fill="#dedede"/><rect x="923.50" y="361.83" width="13.84" height="12.49" fill="#dedede"/><rect x="938.34" y="361.83" width="13.84" height="12.49" fill="#dedede"/><rect x="953.18" y="361.83" width="13.84" height="12.49" fill="#dedede"/><rect x="968.02" y="361.83" width="13.84" height="12.49" fill="#dedede"/><rect x="982.87" y="361.83" width="13.84" height="12.49" fill="#dedede"/><rect x="997.71" y="361.83" width="13.84" height="12.49" fill="#dedede"/><rect x="1012.55" y="361.83" width="13.84" height="12.49" fill="#dedede"/><rect x="1027.39" y="361.83" width="13.84" height="12.49" fill="#dedede"/><rect x="1042.23" y="361.83" width="13.84" height="12.49" fill="#dedede"/><rect x="1057.07" y="361.83" width="13.84" height="12.49" fill="#dedede"/><rect x="1071.92" y="361.83" width="13.84" height="12.49" fill="#dedede"/><rect x="1086.76" y="361.83" width="13.84" height="12.49" fill="#dedede"/><rect x="745.40" y="375.31" width="13.84" height="12.49" fill="#dedede"/><rect x="760.24" y="375.31" width="13.84" height="12.49" fill="#dedede"/><rect x="775.08" y="375.31" width="13.84" height="12.49" fill="#dedede"/><rect x="789.92" y="375.31" width="13.84" height="12.49" fill="#dedede"/><rect x="804.77" y="375.31" width="13.84" height="12.49" fill="#dedede"/><rect x="819.61" y="375.31" width="13.84" height="12.49" fill="#dedede"/><rect x="834.45" y="375.31" width="13.84" height="12.49" fill="#dedede"/><rect x="849.29" y="375.31" width="13.84" height="12.49" fill="#dedede"/><rect x="864.13" y="375.31" width="13.84" height="12.49" fill="#dedede"/><rect x="878.97" y="375.31" width="13.84" height="12.49" fill="#dedede"/><rect x="893.82" y="375.31" width="13.84" height="12.49" fill="#dedede"/><rect x="908.66" y="375.31" width="13.84" height="12.49" fill="#dedede"/><rect x="923.50" y="375.31" width="13.84" height="12.49" fill="#dedede"/><rect x="938.34" y="375.31" width="13.84" height="12.49" fill="#dedede"/><rect x="953.18" y="375.31" width="13.84" height="12.49" fill="#dedede"/><rect x="968.02" y="375.31" width="13.84" height="12.49" fill="#dedede"/><rect x="982.87" y="375.31" width="13.84" height="12.49" fill="#dedede"/><rect x="997.71" y="375.31" width="13.84" height="12.49" fill="#dedede"/><rect x="1012.55" y="375.31" width="13.84" height="12.49" fill="#dedede"/><rect x="1027.39" y="375.31" width="13.84" height="12.49" fill="#dedede"/><rect x="1042.23" y="375.31" width="13.84" height="12.49" fill="#dedede"/><rect x="1057.07" y="375.31" width="13.84" height="12.49" fill="#dedede"/><rect x="1071.92" y="375.31" width="13.84" height="12.49" fill="#dedede"/><rect x="1086.76" y="375.31" width="13.84" height="12.49" fill="#dedede"/><g font-family="Liberation Sans, sans-serif" font-size="5.6" fill="#5a5a5a"><text x="743.2" y="303.14" text-anchor="end">Monday</text><text x="743.2" y="316.63" text-anchor="end">Tuesday</text><text x="743.2" y="330.11" text-anchor="end">Wednesday</text><text x="743.2" y="343.60" text-anchor="end">Thursday</text><text x="743.2" y="357.09" text-anchor="end">Friday</text><text x="743.2" y="370.57" text-anchor="end">Saturday</text><text x="743.2" y="384.06" text-anchor="end">Sunday</text><text x="752.32" y="394.3" text-anchor="middle">0</text><text x="767.16" y="394.3" text-anchor="middle">1</text><text x="782.00" y="394.3" text-anchor="middle">2</text><text x="796.85" y="394.3" text-anchor="middle">3</text><text x="811.69" y="394.3" text-anchor="middle">4</text><text x="826.53" y="394.3" text-anchor="middle">5</text><text x="841.37" y="394.3" text-anchor="middle">6</text><text x="856.21" y="394.3" text-anchor="middle">7</text><text x="871.05" y="394.3" text-anchor="middle">8</text><text x="885.90" y="394.3" text-anchor="middle">9</text><text x="900.74" y="394.3" text-anchor="middle">10</text><text x="915.58" y="394.3" text-anchor="middle">11</text><text x="930.42" y="394.3" text-anchor="middle">12</text><text x="945.26" y="394.3" text-anchor="middle">13</text><text x="960.10" y="394.3" text-anchor="middle">14</text><text x="974.95" y="394.3" text-anchor="middle">15</text><text x="989.79" y="394.3" text-anchor="middle">16</text><text x="1004.63" y="394.3" text-anchor="middle">17</text><text x="1019.47" y="394.3" text-anchor="middle">18</text><text x="1034.31" y="394.3" text-anchor="middle">19</text><text x="1049.15" y="394.3" text-anchor="middle">20</text><text x="1064.00" y="394.3" text-anchor="middle">21</text><text x="1078.84" y="394.3" text-anchor="middle">22</text><text x="1093.68" y="394.3" text-anchor="middle">23</text></g></svg>
<div style="position:absolute;left:547.30px;top:364.30px;width:405.00px;height:130.50px;background:#fcfbf9;box-shadow:0 1px 2px rgba(0,0,0,0.10),0 0 1px rgba(0,0,0,0.06);"></div>
<div class="t" style="left:753.80px;top:373.97px;font-size:7.6px;line-height:7.6px;color:#333;font-weight:400;letter-spacing:-0.1px;transform:translateX(-50%);">Type of personal injury</div>
<svg style="position:absolute;left:539px;top:391px" width="410" height="95" viewBox="700 430 410 95"><g font-family="Liberation Sans, sans-serif" font-size="5.4" fill="#606060"><path d="M790.3 434.2 V511.2 H1093.4" fill="none" stroke="#5a5a5a" stroke-width="0.8"/><path d="M790.30 511.2 v2.2" stroke="#5a5a5a" stroke-width="0.7"/><text x="790.30" y="519.4" text-anchor="middle">0</text><path d="M840.82 511.2 v2.2" stroke="#5a5a5a" stroke-width="0.7"/><text x="840.82" y="519.4" text-anchor="middle">1</text><path d="M891.33 511.2 v2.2" stroke="#5a5a5a" stroke-width="0.7"/><text x="891.33" y="519.4" text-anchor="middle">2</text><path d="M941.85 511.2 v2.2" stroke="#5a5a5a" stroke-width="0.7"/><text x="941.85" y="519.4" text-anchor="middle">3</text><path d="M992.37 511.2 v2.2" stroke="#5a5a5a" stroke-width="0.7"/><text x="992.37" y="519.4" text-anchor="middle">4</text><path d="M1042.88 511.2 v2.2" stroke="#5a5a5a" stroke-width="0.7"/><text x="1042.88" y="519.4" text-anchor="middle">5</text><path d="M1093.40 511.2 v2.2" stroke="#5a5a5a" stroke-width="0.7"/><text x="1093.40" y="519.4" text-anchor="middle">6</text><rect x="790.6999999999999" y="435.90" width="302.70" height="9.8" fill="#8dd3c7"/><text x="787" y="442.30" text-anchor="end">Stationary vehicle</text><text x="1095.60" y="442.80">6</text><rect x="790.6999999999999" y="448.54" width="201.67" height="9.8" fill="#ffffb3"/><text x="787" y="454.94" text-anchor="end">During the operational braking</text><text x="994.57" y="455.44">4</text><rect x="790.6999999999999" y="461.18" width="151.15" height="9.8" fill="#bebada"/><text x="787" y="467.58" text-anchor="end">During the drive</text><text x="944.05" y="468.08">3</text><rect x="790.6999999999999" y="473.82" width="201.67" height="9.8" fill="#fb8072"/><text x="787" y="480.22" text-anchor="end">During acceleration</text><text x="994.57" y="480.72">4</text><rect x="790.6999999999999" y="486.46" width="100.63" height="9.8" fill="#80b1d3"/><text x="787" y="492.86" text-anchor="end">During emergency braking</text><text x="893.53" y="493.36">2</text><rect x="790.6999999999999" y="499.10" width="201.67" height="9.8" fill="#fdb462"/><text x="787" y="505.50" text-anchor="end">Other</text><text x="994.57" y="506.00">4</text></g></svg>
<div style="position:absolute;left:543.00px;top:412.70px;width:1.00px;height:4.90px;background:#555;"></div>
<div style="position:absolute;left:955.70px;top:11.00px;width:6.20px;height:323.40px;background:#cacaca;"></div>
</div>
</body></html>
